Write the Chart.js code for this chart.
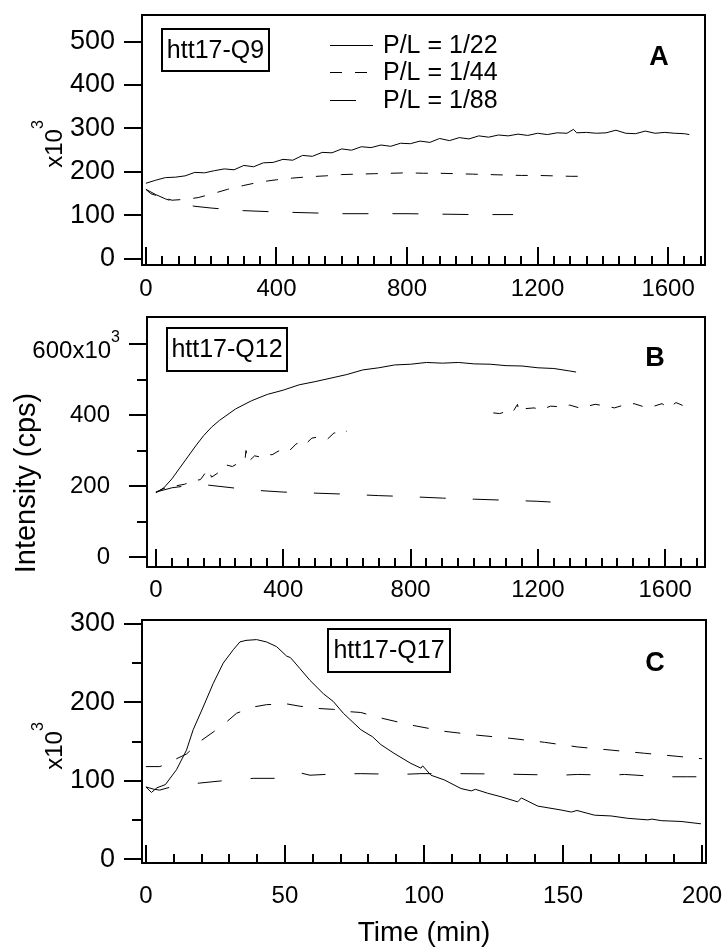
<!DOCTYPE html>
<html>
<head>
<meta charset="utf-8">
<script src="https://cdn.jsdelivr.net/npm/chart.js@4.4.1/dist/chart.umd.min.js"></script>
<style>
  html, body { margin: 0; padding: 0; background: #fff; }
  #wrap { position: relative; width: 722px; height: 950px; }
  canvas { position: absolute; left: 0; }
</style>
</head>
<body>
<div id="wrap">
  <canvas id="chartA" width="722" height="300" style="top:0px"></canvas>
  <canvas id="chartB" width="722" height="300" style="top:300px"></canvas>
  <canvas id="chartC" width="722" height="350" style="top:600px"></canvas>
</div>
<script>
// series names
const seriesNames = ["P/L = 1/22", "P/L = 1/44", "P/L = 1/88"];

// panel A : htt17-Q9 (time in min, intensity in 10^3 cps)
const timeA22 = [0,30,60,90,120,150,180,210,240,270,300,330,360,390,420,450,480,510,540,570,600,630,660,690,720,750,780,810,840,870,900,930,960,990,1020,1050,1080,1110,1140,1170,1200,1230,1260,1290,1310,1320,1350,1380,1410,1440,1470,1500,1530,1560,1590,1620,1650,1665];
const intA22 = [174,181,187,188,191,199,198,203,207,205,215,212,221,222,229,227,238,236,245,244,253,250,258,256,262,259,266,265,271,268,277,272,279,276,283,280,285,283,287,284,289,286,290,289,298,290,291,289,290,296,289,288,294,289,291,289,288,286];
const timeA44 = [0,15,40,80,120,160,200,250,300,350,400,450,500,550,600,650,700,750,800,850,900,950,1000,1050,1100,1150,1200,1250,1300,1340];
const intA44 = [160,150,144,135,137,141,149,160,169,177,182,186,189,191,194,195,196,197,198,197,197,196,195,194,193,192,192,191,190,190];
const timeA88 = [0,30,60,100,150,200,250,300,400,500,600,700,800,900,1000,1125];
const intA88 = [160,148,138,128,121,117,114,111,108,106,104,104,104,103,102,102];

// panel B : htt17-Q12
const timeB22 = [0,25,50,75,100,125,150,175,200,250,300,350,400,450,500,550,600,650,700,750,800,850,900,950,1000,1050,1100,1150,1200,1250,1300,1320];
const intB22 = [181,195,220,251,282,313,342,366,385,417,440,458,470,485,494,504,514,527,533,541,543,548,546,548,544,543,539,538,533,531,524,521];
const timeB44 = [0,30,60,90,117,140,164,175,200,223,240,260,280,283,290,310,327,345,365,380,400,420,440,453,470,490,515,540,560,580,600,820,1060,1080,1100,1120,1136,1140,1160,1188,1210,1240,1273,1300,1330,1356,1380,1418,1440,1470,1502,1530,1565,1590,1610,1634,1660];
const intB44 = [183,195,200,205,215,218,248,225,240,259,255,265,275,300,268,285,282,290,288,296,305,300,318,325,318,335,339,333,350,345,355,null,406,404,410,407,430,410,418,420,415,425,423,428,420,425,430,425,420,428,432,424,425,432,420,435,425];
const timeB88 = [0,50,100,160,250,330,400,500,600,700,800,900,1000,1100,1200,1240];
const intB88 = [183,195,201,203,194,187,183,180,177,173,170,166,163,160,157,155];

// panel C : htt17-Q17
const timeC22 = [0,2,4,7,11,14.6,17,20.6,24.2,27.8,31.4,33.8,36,39.8,43.4,47,50.6,52,55.4,59,63.8,67.4,71,77.3,81.5,84.5,89.2,95.3,98.9,99.5,102.5,107.3,113.3,117,118.5,122.9,127.7,133.7,135,140.9,149.3,153,155,161.3,167.3,173.3,180.5,182,185.3,192.4,199.6];
const intC22 = [92,85,91,95,114,139,165,194,224,250,267,277,279,280,277,271,259,257,243,228,211,201,186,165,156,146,135,122,116,119,107,101,90,87,89,84,79.5,73,78,67.6,62.6,60,62,56,55,52,50,51,49,48,45];
const timeC44 = [0,5,8,11,14.6,19.4,24.2,29,32.6,38.6,43.4,50.6,55.4,62.6,67.4,73.4,77.3,84.5,95.3,107.3,119.3,131.3,143.3,155.3,167.3,179.3,191.3,200];
const intC44 = [118,118,122,128,134,150,162,175,186,194,197,198,195,192,191,188,187,180,171,163,158,154,149,143,139,135,131,128];
const timeC88 = [0,3,5,9,14,19.4,27.8,33,38.6,47,54.2,55.5,59,67.4,77.3,91.7,98.9,112.1,128.9,134.9,149.3,155.3,167.3,172.1,185.3,194.9,200];
const intC88 = [92,89,88,92,95,97,100,101,103,103,105,110,107,108.5,109,108,109,109,108.5,108,107,108,107,108,105,105,105];

// tick labels
const xLabelsLong = [0, 400, 800, 1200, 1600];
const xLabelsShort = [0, 50, 100, 150, 200];
const yLabelsA = [0, 100, 200, 300, 400, 500];
const yLabelsB = [0, 200, 400, 600];
const yLabelsC = [0, 100, 200, 300];

const FAMILY = '"Liberation Sans", Arial, Helvetica, sans-serif';
const font = (size, bold) => (bold ? "bold " : "") + size + "px " + FAMILY;
Chart.defaults.font.family = FAMILY;
Chart.defaults.color = "#000";

const toPoints = (xs, ys) => xs.map((x, i) => ({ x: x, y: ys[i] }));

const isMajor = (v, major) => Math.abs(v / major - Math.round(v / major)) < 1e-6;

// frame, inward x ticks, outward y ticks, boxes, letters, legend
const panelDeco = {
  id: "panelDeco",
  afterDraw(chart, args, o) {
    const ctx = chart.ctx;
    const a = chart.chartArea;
    const xs = chart.scales.x;
    const ys = chart.scales.y;
    ctx.save();
    ctx.strokeStyle = "#000";
    ctx.fillStyle = "#000";
    ctx.setLineDash([]);
    ctx.lineWidth = 2;
    ctx.strokeRect(a.left, a.top, a.right - a.left, a.bottom - a.top);

    ctx.beginPath();
    for (let v = 0; v <= o.xTicks.to + 1e-6; v += o.xTicks.step) {
      const px = Math.round(xs.getPixelForValue(v));
      const len = isMajor(v, o.xTicks.major) ? 18 : 9;
      ctx.moveTo(px, a.bottom);
      ctx.lineTo(px, a.bottom - len);
    }
    for (let v = 0; v <= o.yTicks.to + 1e-6; v += o.yTicks.step) {
      const py = Math.round(ys.getPixelForValue(v));
      const len = isMajor(v, o.yTicks.major) ? 18 : 10;
      ctx.moveTo(a.left - len, py);
      ctx.lineTo(a.left, py);
    }
    ctx.stroke();

    // boxed sample name
    if (o.box) {
      ctx.lineWidth = 2;
      ctx.strokeRect(o.box.x, o.box.y, o.box.w, o.box.h);
      ctx.font = font(25);
      ctx.textAlign = "center";
      ctx.textBaseline = "middle";
      ctx.fillText(o.box.text, o.box.x + o.box.w / 2, o.box.y + o.box.h / 2 + 1);
    }

    // panel letter
    if (o.letter) {
      ctx.font = font(27, true);
      ctx.textAlign = "center";
      ctx.textBaseline = "middle";
      ctx.fillText(o.letter.text, o.letter.x, o.letter.y);
    }

    // legend
    if (o.legend) {
      chart.data.datasets.forEach((ds, i) => {
        const y = o.legend.rows[i];
        ctx.lineWidth = 1;
        ctx.setLineDash(ds.borderDash || []);
        ctx.beginPath();
        ctx.moveTo(o.legend.x1, y + 0.5);
        ctx.lineTo(o.legend.x2, y + 0.5);
        ctx.stroke();
        ctx.setLineDash([]);
        ctx.font = font(25);
        ctx.textAlign = "left";
        ctx.textBaseline = "middle";
        ctx.fillText(ds.label, o.legend.tx, y + 1);
      });
    }

    // rotated x10^3 unit
    if (o.unit) {
      ctx.save();
      ctx.translate(o.unit.x, o.unit.y);
      ctx.rotate(-Math.PI / 2);
      ctx.font = font(24);
      const w1 = ctx.measureText("x10").width;
      ctx.font = font(16);
      const w2 = ctx.measureText("3").width;
      const x0 = -(w1 + w2) / 2;
      ctx.textAlign = "left";
      ctx.textBaseline = "alphabetic";
      ctx.font = font(24);
      ctx.fillText("x10", x0, 0);
      ctx.font = font(16);
      ctx.fillText("3", x0 + w1, -19);
      ctx.restore();
    }

    // big rotated axis title
    if (o.sideTitle) {
      ctx.save();
      ctx.translate(o.sideTitle.x, o.sideTitle.y);
      ctx.rotate(-Math.PI / 2);
      ctx.font = font(29);
      ctx.textAlign = "center";
      ctx.textBaseline = "middle";
      ctx.fillText(o.sideTitle.text, 0, 0);
      ctx.restore();
    }

    // top tick label with exponent (600x10^3)
    if (o.expLabel) {
      const py = ys.getPixelForValue(o.expLabel.value);
      ctx.font = font(16);
      const w3 = ctx.measureText("3").width;
      ctx.textBaseline = "alphabetic";
      ctx.font = font(24);
      ctx.textAlign = "right";
      ctx.fillText(o.expLabel.value + "x10", o.expLabel.right - w3, py + 14);
      ctx.font = font(16);
      ctx.textAlign = "left";
      ctx.fillText("3", o.expLabel.right - w3, py - 2);
    }
    ctx.restore();
  },
};

const makeDatasets = (sets) =>
  sets.map((s, i) => ({
    label: seriesNames[i],
    data: toPoints(s.t, s.v),
    borderColor: "#000",
    borderWidth: 1,
    borderDash: s.dash,
    pointRadius: 0,
    tension: 0,
    fill: false,
    spanGaps: false,
  }));

const makeOptions = (p) => ({
  responsive: false,
  animation: false,
  devicePixelRatio: 1,
  layout: { padding: { top: p.frame.top, right: 722 - p.frame.right, left: 0, bottom: 0 } },
  plugins: {
    legend: { display: false },
    tooltip: { enabled: false },
    panelDeco: p.deco,
  },
  scales: {
    x: {
      type: "linear",
      min: p.xMin,
      max: p.xMax,
      grid: { display: false },
      border: { display: false },
      afterBuildTicks: (s) => {
        s.ticks = p.xLabels.map((v) => ({ value: v }));
      },
      afterFit: (s) => {
        s.height = p.height - p.frame.bottom;
        s.paddingLeft = 0;
        s.paddingRight = 0;
      },
      ticks: {
        padding: p.xPad,
        font: { size: 24 },
        color: "#000",
        maxRotation: 0,
        autoSkip: false,
        callback: (v) => String(v),
      },
      title: p.xTitle
        ? { display: true, text: p.xTitle, font: { size: 28 }, color: "#000", padding: { top: 0, bottom: 0 } }
        : { display: false },
    },
    y: {
      type: "linear",
      min: p.yMin,
      max: p.yMax,
      grid: { display: false },
      border: { display: false },
      afterBuildTicks: (s) => {
        s.ticks = p.yLabels.map((v) => ({ value: v }));
      },
      afterFit: (s) => {
        s.width = p.frame.left;
        s.paddingTop = 0;
        s.paddingBottom = 0;
      },
      ticks: {
        padding: p.yPad,
        font: { size: p.yFont },
        color: "#000",
        autoSkip: false,
        callback: (v) => (p.hideLabel === v ? "" : String(v)),
      },
    },
  },
});

new Chart(document.getElementById("chartA"), {
  type: "line",
  data: {
    datasets: makeDatasets([
      { t: timeA22, v: intA22, dash: [] },
      { t: timeA44, v: intA44, dash: [12, 13] },
      { t: timeA88, v: intA88, dash: [26, 24] },
    ]),
  },
  options: makeOptions({
    height: 300,
    frame: { left: 142, top: 15, right: 705, bottom: 265 },
    xMin: -12, xMax: 1713, yMin: -14, yMax: 561,
    xLabels: xLabelsLong, yLabels: yLabelsA,
    xPad: 2, yPad: 19, yFont: 27,
    deco: {
      xTicks: { to: 1700, step: 50, major: 400 },
      yTicks: { to: 500, step: 100, major: 100 },
      box: { text: "htt17-Q9", x: 162, y: 29, w: 107, h: 42 },
      letter: { text: "A", x: 659, y: 58 },
      legend: { x1: 330, x2: 373, tx: 383, rows: [45, 72, 100] },
      unit: { x: 62, y: 144 },
    },
  }),
  plugins: [panelDeco],
});

new Chart(document.getElementById("chartB"), {
  type: "line",
  data: {
    datasets: makeDatasets([
      { t: timeB22, v: intB22, dash: [] },
      { t: timeB44, v: intB44, dash: [10, 12] },
      { t: timeB88, v: intB88, dash: [26, 27] },
    ]),
  },
  options: makeOptions({
    height: 300,
    frame: { left: 147, top: 17, right: 705, bottom: 267 },
    xMin: -28, xMax: 1725, yMin: -28, yMax: 676,
    xLabels: xLabelsLong, yLabels: yLabelsB,
    xPad: 1, yPad: 29, yFont: 24, hideLabel: 600,
    deco: {
      xTicks: { to: 1700, step: 50, major: 400 },
      yTicks: { to: 600, step: 100, major: 200 },
      box: { text: "htt17-Q12", x: 167, y: 28, w: 120, h: 43 },
      letter: { text: "B", x: 655, y: 59 },
      expLabel: { value: 600, right: 120 },
      sideTitle: { text: "Intensity (cps)", x: 27, y: 183 },
    },
  }),
  plugins: [panelDeco],
});

new Chart(document.getElementById("chartC"), {
  type: "line",
  data: {
    datasets: makeDatasets([
      { t: timeC22, v: intC22, dash: [] },
      { t: timeC44, v: intC44, dash: [16, 16] },
      { t: timeC88, v: intC88, dash: [24, 29] },
    ]),
  },
  options: makeOptions({
    height: 350,
    frame: { left: 142, top: 20, right: 706, bottom: 263 },
    xMin: -1.4, xMax: 201.4, yMin: -5, yMax: 305,
    xLabels: xLabelsShort, yLabels: yLabelsC,
    xPad: 11, yPad: 19, yFont: 27, xTitle: "Time (min)",
    deco: {
      xTicks: { to: 200, step: 10, major: 50 },
      yTicks: { to: 300, step: 50, major: 100 },
      box: { text: "htt17-Q17", x: 328, y: 29, w: 122, h: 43 },
      letter: { text: "C", x: 655, y: 64 },
      unit: { x: 62, y: 146 },
    },
  }),
  plugins: [panelDeco],
});
</script>
</body>
</html>
